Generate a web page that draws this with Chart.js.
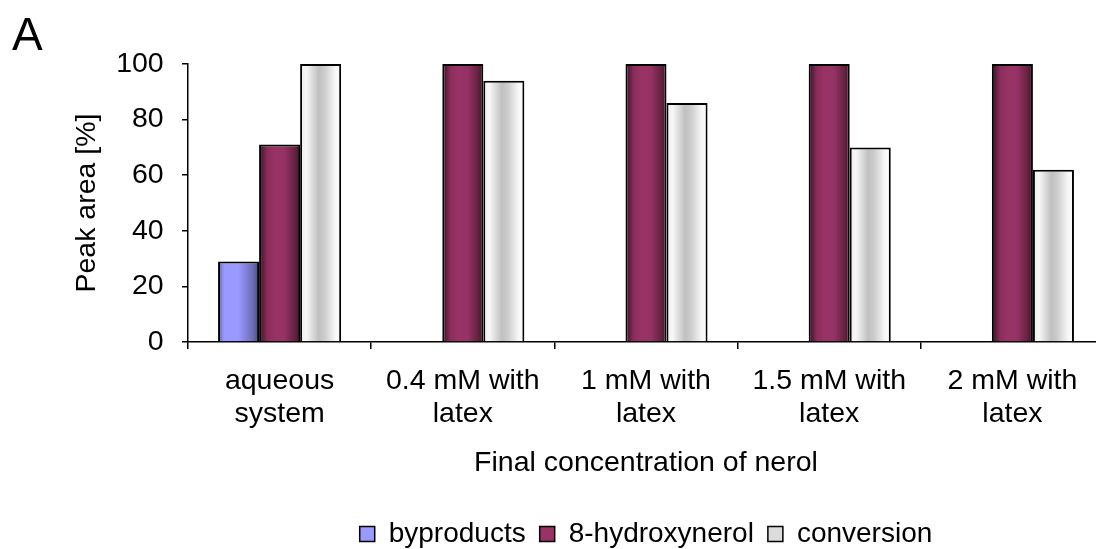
<!DOCTYPE html>
<html>
<head>
<meta charset="utf-8">
<script src="https://cdn.jsdelivr.net/npm/chart.js@4"></script>
<style>
  html, body { margin: 0; padding: 0; background: #fff; overflow: hidden; width: 1096px; height: 549px; }
  #wrap { position: relative; width: 1110px; height: 560px; }
  #panel { position: absolute; left: 12px; top: 10.7px; font: 46px/46px 'Liberation Sans', Arial, sans-serif; color: #000; }
  canvas { display: block; }
</style>
</head>
<body>
<div id="wrap">
  <canvas id="chart" width="1110" height="560" style="width:1110px;height:560px"></canvas>
  <div id="panel">A</div>
</div>
<script>
// Categories and measured peak areas (%)
const categories = [
  ['aqueous', 'system'],
  ['0.4 mM with', 'latex'],
  ['1 mM with', 'latex'],
  ['1.5 mM with', 'latex'],
  ['2 mM with', 'latex']
];
const byproducts   = [29, null, null, null, null];
const hydroxynerol = [71, 100, 100, 100, 100];
const conversion   = [100, 94, 86, 70, 62];
const yTicks = [0, 20, 40, 60, 80, 100];

const FONT = "'Liberation Sans', Arial, sans-serif";
const CAT_PCT = 0.672;

// Horizontal shading for each series, like a cylinder-style fill
const shades = [
  { solid: '#9999ff', stops: [[0, '#5c5c99'], [0.14, '#9999ff'], [0.5, '#9999ff'], [0.85, '#6c6cb4'], [1, '#4a4a80']] },
  { solid: '#993366', stops: [[0, '#3a0f24'], [0.2, '#8a2d5b'], [0.4, '#993366'], [0.62, '#953265'], [0.88, '#63213f'], [1, '#3d1429']] },
  { solid: '#dcdcdc', stops: [[0, '#ededed'], [0.15, '#f7f7f7'], [0.45, '#c0c0c0'], [0.6, '#cdcdcd'], [0.85, '#f6f6f6'], [1, '#ffffff']] }
];

// Gradient spanning one bar, positioned from the category scale
function barFill(ctx) {
  const shade = shades[ctx.datasetIndex];
  if (ctx.type !== 'data' || !ctx.chart.scales || !ctx.chart.scales.x) return shade.solid;
  const xs = ctx.chart.scales.x;
  const catW = xs.width / categories.length;
  const groupW = catW * CAT_PCT;
  const barW = groupW / 3;
  const center = xs.getPixelForValue(ctx.dataIndex);
  const left = center - groupW / 2 + ctx.datasetIndex * barW;
  const g = ctx.chart.ctx.createLinearGradient(left, 0, left + barW, 0);
  shade.stops.forEach(s => g.addColorStop(s[0], s[1]));
  return g;
}

Chart.defaults.color = '#000';
Chart.defaults.font.family = FONT;
const baseLabels = Chart.defaults.plugins.legend.labels.generateLabels;

new Chart(document.getElementById('chart'), {
  type: 'bar',
  data: {
    labels: categories,
    datasets: [
      { label: 'byproducts', data: byproducts },
      { label: '8-hydroxynerol', data: hydroxynerol },
      { label: 'conversion', data: conversion }
    ].map(d => Object.assign(d, {
      backgroundColor: barFill,
      borderColor: '#000',
      borderWidth: 2,
      barPercentage: 1,
      categoryPercentage: CAT_PCT
    }))
  },
  options: {
    responsive: false,
    animation: false,
    devicePixelRatio: 1,
    layout: { padding: { top: 64, left: 68, right: 6, bottom: 2 } },
    plugins: {
      tooltip: { enabled: false },
      title: { display: false },
      legend: {
        position: 'bottom',
        fullSize: false,
        labels: {
          font: { size: 28 },
          boxWidth: 15,
          boxHeight: 15,
          padding: 14,
          color: '#000',
          generateLabels(chart) {
            return baseLabels(chart).map((item, i) => Object.assign(item, {
              fillStyle: shades[i].solid,
              strokeStyle: '#000',
              lineWidth: 1.5
            }));
          }
        }
      }
    },
    scales: {
      x: {
        offset: true,
        grid: { offset: true, drawOnChartArea: false, tickLength: 7, color: '#000', lineWidth: 1.5 },
        border: { color: '#000', width: 1.5 },
        ticks: { font: { size: 28.5, lineHeight: 1.165 }, padding: 15.1, maxRotation: 0, autoSkip: false, color: '#000' },
        title: { display: true, text: 'Final concentration of nerol', font: { size: 28.5, lineHeight: 1.2 }, padding: { top: 0, bottom: 25.3 }, color: '#000' },
        afterFit(scale) { scale.height = 164; }
      },
      y: {
        min: 0,
        max: 100,
        afterBuildTicks(scale) { scale.ticks = yTicks.map(v => ({ value: v })); },
        grid: { drawOnChartArea: false, tickLength: 6, color: '#000', lineWidth: 1.5 },
        border: { color: '#000', width: 1.5 },
        ticks: { font: { size: 28.5 }, padding: 18.3, color: '#000' },
        title: { display: true, text: 'Peak area [%]', font: { size: 28.5, lineHeight: 1.2 }, padding: { top: 2, bottom: 0 }, color: '#000' },
        afterFit(scale) { scale.width = 120; }
      }
    }
  }
});
</script>
</body>
</html>
